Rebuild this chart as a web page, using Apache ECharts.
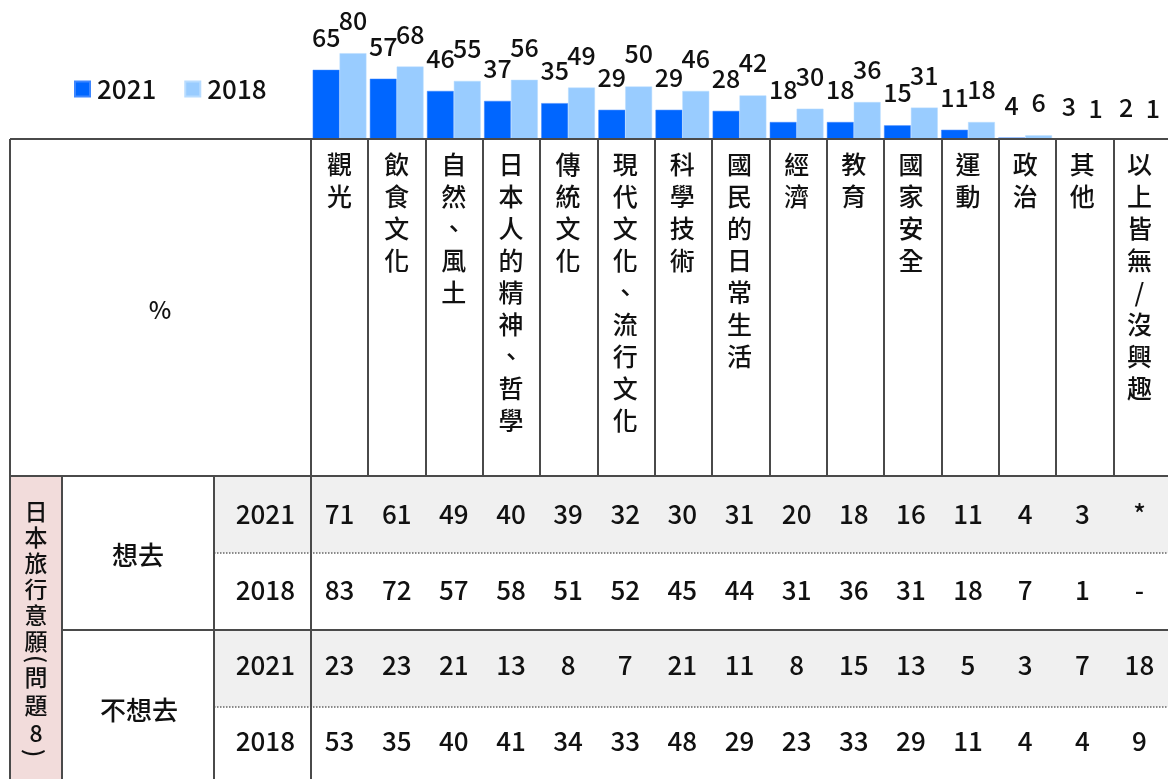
<!DOCTYPE html>
<html>
<head>
<meta charset="utf-8">
<script src="https://cdn.jsdelivr.net/npm/echarts@6/dist/echarts.min.js"></script>
<style>
  html, body { margin: 0; padding: 0; background: #fff; }
  #main { width: 1168px; height: 779px; }
</style>
</head>
<body>
<div id="main"></div>
<script>
// 題目類別
const categories = ['觀光', '飲食文化', '自然、風土', '日本人的精神、哲學', '傳統文化', '現代文化、流行文化',
  '科學技術', '國民的日常生活', '經濟', '教育', '國家安全', '運動', '政治', '其他', '以上皆無/沒興趣'];
// 長條圖 (%)
const bars2021 = [65, 57, 46, 37, 35, 29, 29, 28, 18, 18, 15, 11, 4, 3, 2];
const bars2018 = [80, 68, 55, 56, 49, 50, 46, 42, 30, 36, 31, 18, 6, 1, 1];
// 表格 (日本旅行意願)
const want2021 = ['71', '61', '49', '40', '39', '32', '30', '31', '20', '18', '16', '11', '4', '3', '*'];
const want2018 = ['83', '72', '57', '58', '51', '52', '45', '44', '31', '36', '31', '18', '7', '1', '-'];
const notWant2021 = ['23', '23', '21', '13', '8', '7', '21', '11', '8', '15', '13', '5', '3', '7', '18'];
const notWant2018 = ['53', '35', '40', '41', '34', '33', '48', '29', '23', '33', '29', '11', '4', '4', '9'];
const rowKeys = ['想去-2021', '想去-2018', '不想去-2021', '不想去-2018'];
const rowYears = ['2021', '2018', '2021', '2018'];
const groupLabels = ['想去', '不想去'];

const tableRows = [want2021, want2018, notWant2021, notWant2018];

// layout
const FONT = '"Noto Sans CJK TC", "Noto Sans", sans-serif';
const WEIGHT = 500;
const L = 311, W = 860, colW = W / 15;
const tblTop = 139, hdrBottom = 476, rowH = 77;
const lineColor = '#4a4a4a';

const cells = [];
tableRows.forEach((row, r) => row.forEach((v, c) => cells.push([c, r])));

const graphics = [];
// header white backdrop (hides the bottom of the bars)
graphics.push({ type: 'rect', z: 5, shape: { x: 0, y: tblTop, width: 1168, height: hdrBottom - tblTop }, style: { fill: '#fff' } });
// gray rows (2021)
[0, 2].forEach(r => graphics.push({
  type: 'rect', z: 0, shape: { x: 214, y: hdrBottom + r * rowH, width: 960, height: rowH }, style: { fill: '#f0f0f0' }
}));
// pink side cell
graphics.push({ type: 'rect', z: 0, shape: { x: 10, y: hdrBottom, width: 52, height: 779 - hdrBottom + 5 }, style: { fill: '#f2dcdb' } });
function hline(x1, x2, y, dash) {
  graphics.push({ type: 'line', z: 10, shape: { x1: x1, y1: y, x2: x2, y2: y },
    style: dash ? { stroke: '#8a8a8a', lineWidth: 2, lineDash: [1.5, 1.5] } : { stroke: lineColor, lineWidth: 2 } });
}
function vline(x, y1, y2) {
  graphics.push({ type: 'line', z: 10, shape: { x1: x, y1: y1, x2: x, y2: y2 }, style: { stroke: lineColor, lineWidth: 2 } });
}
hline(10, 1168, tblTop);
hline(10, 1168, hdrBottom);
hline(62, 1168, hdrBottom + 2 * rowH);
hline(214, 1168, hdrBottom + rowH, true);
hline(214, 1168, hdrBottom + 3 * rowH, true);
vline(10, tblTop, 779);
vline(L, tblTop, 779);
vline(62, hdrBottom, 779);
vline(214, hdrBottom, 779);
for (let i = 1; i < 15; i++) vline(Math.round(L + colW * i), tblTop, hdrBottom);

function text(str, x, y, size, lh, rot) {
  graphics.push({ type: 'text', z: 12, x: x, y: y, rotation: rot || 0,
    style: { text: str, fontSize: size, fontWeight: WEIGHT, lineHeight: lh || size * 1.2, fontFamily: FONT,
      fill: '#111', align: 'center', verticalAlign: 'middle' } });
}
text('%', 160, 310, 24);
text(groupLabels[0], 138, hdrBottom + rowH + 2, 26);
text(groupLabels[1], 139, hdrBottom + 3 * rowH + 3, 26);
// side label: 日本旅行意願(問題8), written vertically
text('日\n本\n旅\n行\n意\n願', 36, 576, 23, 26);
text('(', 37, 659, 23, 23, -Math.PI / 2);
text('問\n題\n8', 36, 705, 23, 28);
text(')', 35, 753, 23, 23, -Math.PI / 2);

const chart = echarts.init(document.getElementById('main'));
chart.setOption({
  animation: false,
  textStyle: { fontFamily: FONT },
  legend: {
    data: ['2021', '2018'],
    left: 74, top: 76, padding: 0,
    icon: 'rect', itemWidth: 15, itemHeight: 15, itemGap: 28,
    textStyle: { fontSize: 26, fontWeight: WEIGHT, color: '#111', fontFamily: FONT, padding: [0, 0, 0, 2] }
  },
  grid: [
    { left: L, width: W, top: 31, height: 111 },
    { left: L, width: W, top: hdrBottom, height: rowH * 4 }
  ],
  xAxis: [
    {
      type: 'category', data: categories, gridIndex: 0, z: 20,
      axisLine: { show: false }, axisTick: { show: false },
      axisLabel: {
        interval: 0, margin: 6, verticalAlign: 'top',
        fontSize: 25, fontWeight: WEIGHT, lineHeight: 32, color: '#111', fontFamily: FONT,
        formatter: v => v.split('').join('\n')
      }
    },
    {
      type: 'category', data: categories, gridIndex: 1,
      axisLine: { show: false }, axisTick: { show: false }, axisLabel: { show: false }
    }
  ],
  yAxis: [
    { type: 'value', gridIndex: 0, min: 0, max: 100, show: false },
    {
      type: 'category', data: rowKeys, gridIndex: 1, inverse: true, z: 20,
      axisLine: { show: false }, axisTick: { show: false },
      axisLabel: { margin: 16, fontSize: 26, fontWeight: WEIGHT, color: '#111', fontFamily: FONT,
        formatter: (v, i) => rowYears[i] }
    }
  ],
  series: [
    {
      name: '2021', type: 'bar', data: bars2021, xAxisIndex: 0, yAxisIndex: 0,
      barGap: '0%', barCategoryGap: '6%',
      itemStyle: { color: '#0066ff', borderColor: '#3d86ff', borderWidth: 0.5 },
      label: { show: true, position: 'top', distance: 20, fontSize: 25, fontWeight: WEIGHT, color: '#111', fontFamily: FONT }
    },
    {
      name: '2018', type: 'bar', data: bars2018, xAxisIndex: 0, yAxisIndex: 0,
      barGap: '0%', barCategoryGap: '6%',
      itemStyle: { color: '#99ccff', borderColor: '#b8dcff', borderWidth: 0.5 },
      label: { show: true, position: 'top', distance: 20, fontSize: 25, fontWeight: WEIGHT, color: '#111', fontFamily: FONT }
    },
    {
      name: 'table', type: 'scatter', xAxisIndex: 1, yAxisIndex: 1, z: 15,
      data: cells, symbolSize: 1, itemStyle: { color: 'transparent', opacity: 1 },
      label: {
        show: true, position: 'inside', opacity: 1, fontSize: 26, fontWeight: WEIGHT, color: '#111', fontFamily: FONT,
        formatter: p => tableRows[p.value[1]][p.value[0]]
      }
    }
  ],
  graphic: graphics
});
</script>
</body>
</html>
